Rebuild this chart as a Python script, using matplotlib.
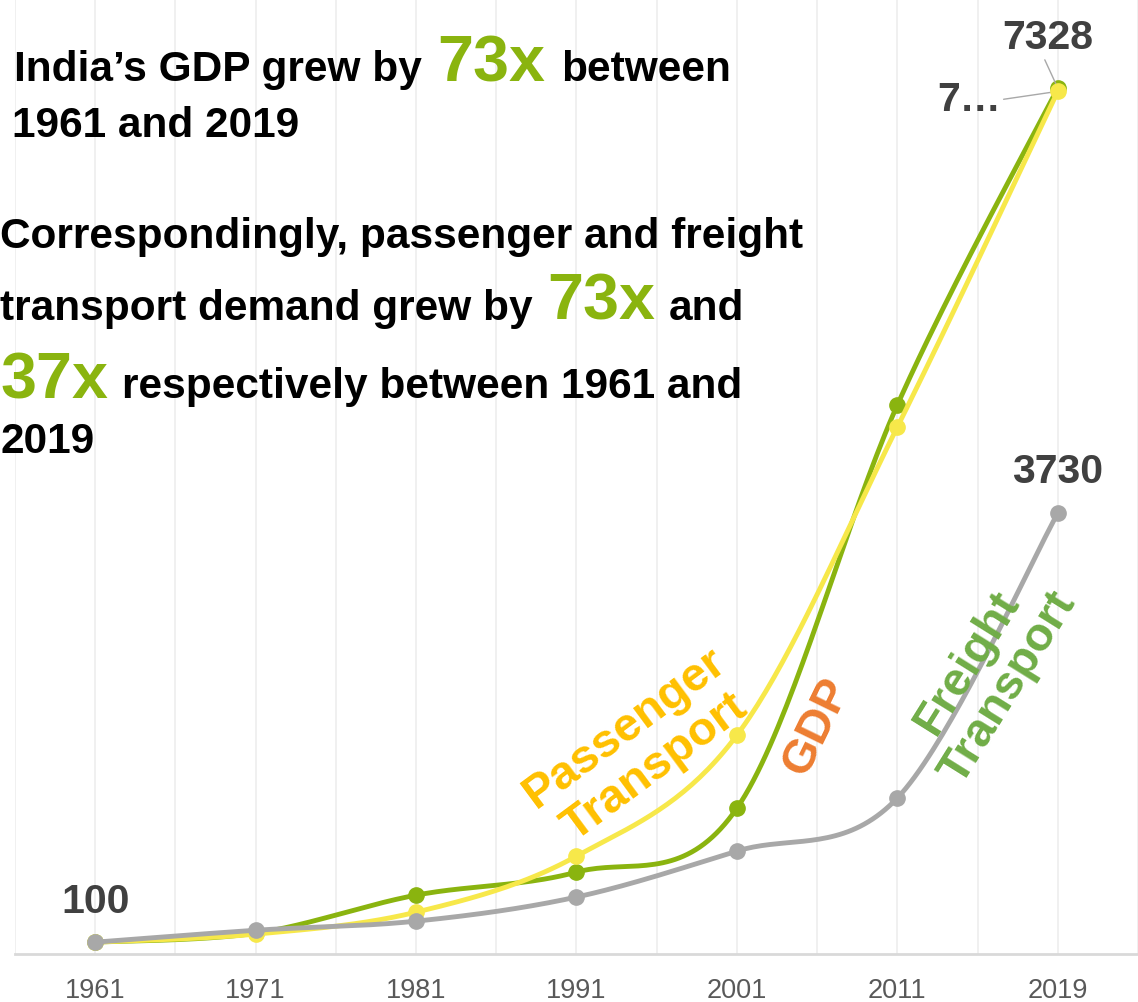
import numpy as np
import matplotlib.pyplot as plt

plt.rcParams['font.family'] = ['Liberation Sans', 'DejaVu Sans']

# 数据：指数（1961 = 100）
years = ['1961', '1971', '1981', '1991', '2001', '2011', '2019']
gdp = [100, 176, 498, 693, 1234, 4646, 7328]
passenger = [100, 168, 354, 828, 1852, 4460, 7300]
freight = [100, 201, 278, 482, 871, 1320, 3730]

GREEN = '#8AB40F'
YELLOW = '#F7E84A'
GREY = '#A8A8A8'
LABEL = '#404040'

W, H = 1138, 1002


def smooth(vals, n=40):
    # Excel 风格的平滑曲线：每段三次贝塞尔
    x = np.arange(len(vals), dtype=float)
    y = np.asarray(vals, dtype=float)
    pts = np.column_stack([x, y])
    t = np.linspace(0, 1, n)[:, None]
    out = [pts[:1]]
    for i in range(len(pts) - 1):
        p0 = pts[i]
        p3 = pts[i + 1]
        prev = pts[max(i - 1, 0)]
        nxt = pts[min(i + 2, len(pts) - 1)]
        p1 = p0 + (p3 - prev) / 6
        p2 = p3 - (nxt - p0) / 6
        seg = ((1 - t) ** 3) * p0 + 3 * ((1 - t) ** 2) * t * p1 + 3 * (1 - t) * t ** 2 * p2 + t ** 3 * p3
        out.append(seg[1:])
    c = np.vstack(out)
    return c[:, 0], c[:, 1]


fig = plt.figure(figsize=(W / 100, H / 100), dpi=100)
ax = fig.add_axes([15 / W, (H - 954) / H, 1 - 15 / W, 954 / H])

idx = np.arange(len(years))
for vals, col, z in [(gdp, GREEN, 3), (passenger, YELLOW, 4), (freight, GREY, 5)]:
    sx, sy = smooth(vals)
    ax.plot(sx, sy, color=col, lw=3.5, zorder=z, solid_capstyle='round')
    ax.plot(idx, vals, 'o', color=col, ms=11, zorder=z)

ax.set_xlim(-0.5, (W - 96) / 162.4)
ax.set_ylim(0, 8073)
ax.set_xticks(idx, years)
ax.set_xticks(np.arange(-0.5, 7, 1), minor=True)
ax.set_yticks([])
ax.grid(axis='x', which='both', color='#EDEDED', lw=1.2)
ax.set_axisbelow(True)
ax.tick_params(axis='x', which='both', length=0, pad=17, labelsize=19.5, labelcolor='#595959')
for s in ['left', 'top', 'right']:
    ax.spines[s].set_visible(False)
ax.spines['bottom'].set_color('#D9D9D9')
ax.spines['bottom'].set_linewidth(2)

# 数据标签
lab = dict(fontsize=29.5, fontweight='bold', color=LABEL, ha='center', va='center',
           textcoords='offset points')
ax.annotate(str(gdp[0]), (0, gdp[0]), xytext=(0, 29), **lab)
ax.annotate(str(freight[-1]), (6, freight[-1]), xytext=(0, 30), **lab)
ax.annotate(str(gdp[-1]), (6, gdp[-1]), xytext=(-7, 36),
            arrowprops=dict(arrowstyle='-', color=GREY, lw=1, shrinkA=0, shrinkB=0,
                            relpos=(0.45, 0)), **lab)
ax.annotate('7…', (6, passenger[-1]), xytext=(-41, -6),
            fontsize=29.5, fontweight='bold', color=LABEL, ha='right', va='center',
            textcoords='offset points',
            arrowprops=dict(arrowstyle='-', color=GREY, lw=1, shrinkA=0, shrinkB=0,
                            relpos=(1, 0.5)))


def ftext(x, y, s, **kw):
    fig.text(x / W, 1 - y / H, s, **kw)


# 标题文字
body = dict(fontsize=30.5, fontweight='bold', color='black', va='baseline')
big = dict(fontsize=46.5, fontweight='bold', color=GREEN, va='baseline')
ftext(14, 81, 'India’s GDP grew by', **body)
ftext(437, 81, '73x', **big)
ftext(561, 81, 'between', **body)
ftext(12, 137, '1961 and 2019', **body)
ftext(0, 248, 'Correspondingly, passenger and freight', **body)
ftext(0, 320, 'transport demand grew by', **body)
ftext(547, 320, '73x', **big)
ftext(669, 320, 'and', **body)
ftext(0, 398, '37x', **big)
ftext(122, 398, 'respectively between 1961 and', **body)
ftext(0, 453, '2019', **body)

# 系列名称（斜排）
rot = dict(fontsize=34, fontweight='bold', ha='center', va='center',
           rotation_mode='anchor', multialignment='center', linespacing=1.15)
ftext(640, 748, 'Passenger\nTransport', color='#FFC000', rotation=36.5, **rot)
ftext(817, 727, 'GDP', color='#ED7D31', rotation=64, **rot)
ftext(988, 675, 'Freight\nTransport', color='#70AD47', rotation=58, **rot)

fig.savefig('out.png', dpi=100)
